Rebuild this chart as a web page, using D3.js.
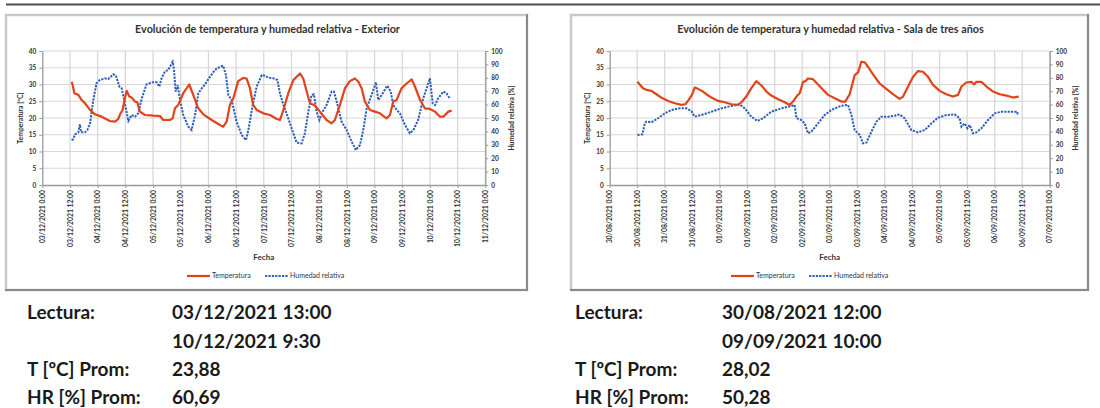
<!DOCTYPE html>
<html>
<head>
<meta charset="utf-8">
<script src="https://cdn.jsdelivr.net/npm/d3@7"></script>
<style>
  body { margin: 0; background: #fff; }
  svg { display: block; }
</style>
</head>
<body>
<svg id="chart" width="1100" height="408"></svg>
<script>
// ---------- Exterior: hours since 03/12/2021 0:00 ----------
const extTempHours = [12.7,13.1,13.9,15.6,17.0,18.5,20.7,22.8,25.7,29.3,31.5,32.9,33.7,34.8,35.8,36.6,37.7,38.7,40.2,41.2,42.3,44.5,48.1,51.0,52.4,55.3,56.5,57.5,58.9,61.1,63.7,65.4,67.6,69.8,73.4,77.0,78.4,79.9,81.3,82.8,84.9,87.1,88.5,90.0,91.4,92.9,95.8,98.7,101.6,103.0,104.5,106.6,108.8,111.7,113.1,114.6,116.0,118.2,120.3,123.2,125.4,126.8,129.0,131.2,133.3,135.5,137.0,138.4,139.8,142.0,144.2,146.3,149.2,150.7,152.1,153.6,155.7,157.9,160.1,161.5,163.7,165.8,168.0,170.2,172.4,173.8,176.0,177.4];
const extTemp      = [30.8,30.0,27.4,26.9,25.4,24.4,22.4,21.1,20.4,19.1,18.9,19.7,21.1,22.4,25.9,28.1,26.4,26.1,24.9,24.7,21.9,20.9,20.7,20.6,19.4,19.4,19.9,22.9,23.9,27.4,30.0,26.9,22.9,21.1,19.4,17.9,17.4,18.9,23.9,25.9,31.0,32.0,31.8,28.9,23.9,22.4,21.4,20.9,19.7,19.4,22.4,27.4,31.3,33.3,31.8,27.9,24.4,23.7,21.9,19.4,18.4,19.4,23.9,28.9,31.0,31.8,30.8,28.9,24.9,22.4,21.9,21.4,19.9,20.9,24.9,25.4,28.9,30.3,31.5,29.4,25.4,22.9,22.7,21.9,20.4,20.4,21.9,22.2];
const extHumHours  = [12.7,13.4,14.2,15.6,16.3,16.8,18.5,19.5,20.7,22.1,23.5,25.0,27.2,28.6,30.8,31.9,33.4,34.4,35.8,37.3,38.7,40.2,41.6,43.1,45.2,47.4,49.6,50.7,51.7,53.2,54.6,55.3,56.5,57.1,57.8,58.7,59.7,61.1,63.3,64.7,66.2,67.6,69.1,70.5,72.7,74.8,77.0,78.4,79.6,80.6,82.1,84.2,86.4,88.3,89.3,91.2,92.9,95.1,96.5,98.0,100.1,101.9,103.0,104.5,106.6,108.8,110.2,112.4,113.8,115.3,116.7,117.7,118.9,120.1,121.5,123.2,125.4,126.4,127.6,129.7,131.9,134.1,135.9,137.7,139.1,140.6,142.7,144.6,145.6,147.1,149.5,151.0,152.1,153.6,155.0,157.2,159.3,160.8,162.9,165.1,167.3,168.0,169.2,170.2,171.6,173.8,175.2,176.7];
const extHum       = [33.6,34.1,37.8,39.3,45.3,39.3,39.3,41.0,46.0,63.4,75.9,78.4,79.6,79.1,82.6,81.6,73.4,72.1,60.9,47.8,52.2,51.0,53.5,64.7,75.1,76.6,76.6,73.4,79.6,85.0,85.8,88.3,92.0,85.8,69.7,74.6,63.4,52.2,43.5,41.0,52.2,68.4,72.1,75.1,80.8,85.8,88.3,89.0,82.0,67.2,63.4,47.3,37.3,33.6,41.0,59.7,73.4,82.0,81.6,80.0,79.6,78.4,68.4,59.7,49.8,38.6,31.6,31.1,38.6,54.7,67.2,67.7,54.7,48.5,54.7,59.7,69.7,69.7,62.2,47.3,41.0,32.3,26.1,29.9,41.0,57.2,67.2,76.6,63.4,67.2,74.1,69.7,59.7,56.0,53.5,44.8,38.6,41.0,48.5,64.7,75.9,79.6,60.9,59.7,64.7,69.7,68.4,64.2];

// ---------- Sala de tres años: hours since 30/08/2021 0:00 ----------
const salaTempHours = [12.1,13.1,14.5,16.0,18.2,20.4,22.5,25.5,28.4,31.3,33.0,34.5,35.9,37.1,38.5,40.7,42.2,44.4,47.3,50.2,53.1,56.0,57.5,59.6,61.8,64.0,66.2,68.4,70.5,73.5,76.4,78.5,80.0,81.5,82.9,84.4,85.4,86.5,88.7,90.9,93.1,95.3,98.2,101.1,102.8,104.7,106.9,108.4,109.8,111.3,112.7,114.9,117.8,120.7,123.6,126.5,128.0,130.2,132.4,134.5,136.7,138.9,141.1,144.0,146.9,149.8,152.0,153.5,155.6,157.8,159.0,160.0,162.2,164.4,167.3,170.2,173.1,176.0,178.5];
const salaTemp      = [30.8,30.0,28.9,28.4,28.1,27.1,26.1,25.1,24.4,23.9,24.1,25.4,26.9,29.1,28.7,27.9,27.1,26.1,25.1,24.7,24.1,23.9,24.7,26.4,28.9,31.0,29.7,27.9,26.7,25.6,24.7,23.9,24.9,26.4,27.4,30.8,31.0,31.8,31.6,30.0,28.4,26.9,25.9,24.9,24.9,27.1,32.8,33.6,36.8,36.6,35.3,33.0,30.3,28.7,27.1,25.7,26.4,29.4,32.3,34.0,33.8,32.3,29.9,28.1,27.1,26.4,26.9,29.4,30.6,30.8,30.0,30.8,30.8,29.4,27.9,27.1,26.7,26.1,26.4];
const salaHumHours  = [12.1,14.3,15.3,16.0,18.2,21.1,24.0,26.9,30.5,33.5,35.6,37.1,40.0,44.4,48.7,53.1,56.7,58.9,61.8,64.4,66.9,70.5,74.9,79.3,80.7,81.5,83.6,85.1,86.5,88.0,90.9,93.8,96.7,101.1,104.0,105.5,106.9,109.1,110.5,112.0,114.2,116.4,118.5,121.5,124.4,126.5,128.7,131.6,134.5,137.5,140.4,143.3,146.9,150.5,152.7,153.5,154.9,156.1,157.1,158.5,160.0,162.2,165.1,168.0,170.9,175.3,177.9,178.0];
const salaHum       = [37.3,37.8,46.0,47.3,46.8,49.8,53.5,56.0,57.2,57.2,55.2,51.0,52.2,54.7,57.2,59.0,60.2,57.2,51.0,47.8,49.8,54.7,57.2,59.0,59.7,49.8,48.5,46.0,38.6,39.8,46.0,52.2,56.0,59.2,59.7,52.2,41.0,37.3,31.1,31.6,39.8,47.3,51.0,51.0,51.7,52.7,49.8,41.0,39.3,41.0,46.0,50.2,52.2,52.7,49.8,43.5,46.0,42.3,44.8,38.6,39.3,42.3,48.5,53.5,54.7,54.7,54.7,51.7];

// ---------- Axis tick values ----------
const tempTicks = d3.range(0, 41, 5);
const humTicks  = d3.range(0, 101, 10);

// ---------- Summary figures ----------
const extReading  = ["03/12/2021 13:00", "10/12/2021 9:30"];
const extAvg      = ["23,88", "60,69"];
const salaReading = ["30/08/2021 12:00", "09/09/2021 10:00"];
const salaAvg     = ["28,02", "50,28"];
const summaryLabels = ["Lectura:", "T [ºC] Prom:", "HR [%] Prom:"];

const RED  = "#e2431b";
const BLUE = "#2d5db8";
const FONT = "Lato, 'Liberation Sans', sans-serif";

const panels = [
  {
    title: "Evolución de temperatura y humedad relativa - Exterior",
    start: new Date(2021, 11, 3, 0, 0),
    tempH: extTempHours, temp: extTemp, humH: extHumHours, hum: extHum,
    frame: { x0: 6, y0: 15, x1: 527, y1: 290 },
    plot: { x0: 42.3, x1: 485.3, y0: 51, y1: 185 },
    legendX: 187,
    reading: extReading, avg: extAvg, textX: 27, valueX: 172
  },
  {
    title: "Evolución de temperatura y humedad relativa - Sala de tres años",
    start: new Date(2021, 7, 30, 0, 0),
    tempH: salaTempHours, temp: salaTemp, humH: salaHumHours, hum: salaHum,
    frame: { x0: 571, y0: 15, x1: 1088, y1: 290 },
    plot: { x0: 609.7, x1: 1049.7, y0: 51, y1: 185 },
    legendX: 731,
    reading: salaReading, avg: salaAvg, textX: 575, valueX: 722
  }
];

const svg = d3.select("#chart");
const fmt = d3.timeFormat("%d/%m/%Y %-H:%M");

// rule across the top of the page
svg.append("line")
  .attr("x1", 6).attr("x2", 1100).attr("y1", 4.5).attr("y2", 4.5)
  .attr("stroke", "#4d4d4d").attr("stroke-width", 2);

panels.forEach(p => {
  const g = svg.append("g");
  const f = p.frame, pl = p.plot;

  // chart frame with a darker right/bottom edge
  g.append("rect")
    .attr("x", f.x0).attr("y", f.y0)
    .attr("width", f.x1 - f.x0).attr("height", f.y1 - f.y0)
    .attr("fill", "#fff").attr("stroke", "#c9c9c9").attr("stroke-width", 2.5);
  g.append("path")
    .attr("d", `M${f.x1},${f.y0 - 1}V${f.y1}H${f.x0 - 1}`)
    .attr("fill", "none").attr("stroke", "#8a8a8a").attr("stroke-width", 2);

  const x = d3.scaleTime()
    .domain([p.start, d3.timeDay.offset(p.start, 8)])
    .range([pl.x0, pl.x1]);
  const yT = d3.scaleLinear().domain([0, 40]).range([pl.y1, pl.y0]);
  const yH = d3.scaleLinear().domain([0, 100]).range([pl.y1, pl.y0]);
  const toDate = h => new Date(p.start.getTime() + h * 3600e3);
  const xTicks = x.ticks(d3.timeHour.every(12));

  // gridlines
  g.append("g").selectAll("line").data(tempTicks.slice(1)).join("line")
    .attr("x1", pl.x0).attr("x2", pl.x1)
    .attr("y1", d => yT(d)).attr("y2", d => yT(d))
    .attr("stroke", "#d6d6d6").attr("stroke-width", 1.2);
  g.append("g").selectAll("line").data(xTicks.slice(1)).join("line")
    .attr("x1", d => x(d)).attr("x2", d => x(d))
    .attr("y1", pl.y0).attr("y2", pl.y1)
    .attr("stroke", "#d6d6d6").attr("stroke-width", 1.2);

  // axes
  const styleAxis = sel => {
    sel.selectAll("path").attr("stroke", "#9a9a9a").attr("stroke-width", 1.3);
    sel.selectAll("line").attr("stroke", "#9a9a9a");
    sel.selectAll("text").attr("fill", "#333")
      .style("font-family", FONT).style("font-weight", "bold");
  };

  g.append("g").attr("transform", `translate(${pl.x0},0)`)
    .call(d3.axisLeft(yT).tickValues(tempTicks).tickSize(3).tickSizeOuter(0).tickPadding(3))
    .call(styleAxis)
    .selectAll("text").style("font-size", "6.5px");

  g.append("g").attr("transform", `translate(${pl.x1},0)`)
    .call(d3.axisRight(yH).tickValues(humTicks).tickSize(3).tickSizeOuter(0).tickPadding(3))
    .call(styleAxis)
    .selectAll("text").style("font-size", "6.5px");

  const xAxis = g.append("g").attr("transform", `translate(0,${pl.y1})`)
    .call(d3.axisBottom(x).tickValues(xTicks).tickFormat(fmt).tickSize(3).tickSizeOuter(0))
    .call(styleAxis);
  xAxis.selectAll("text")
    .style("font-size", "6.8px")
    .style("text-anchor", "end")
    .attr("transform", "rotate(-90)")
    .attr("x", -5).attr("y", 0).attr("dy", "0.33em");

  // series
  const tempLine = d3.line()
    .x((d, i) => x(toDate(p.tempH[i])))
    .y(d => yT(d));
  const humLine = d3.line()
    .x((d, i) => x(toDate(p.humH[i])))
    .y(d => yH(d));

  g.append("path").datum(p.hum).attr("d", humLine)
    .attr("fill", "none").attr("stroke", BLUE).attr("stroke-width", 2)
    .attr("stroke-dasharray", "2.2,1.2");
  g.append("path").datum(p.temp).attr("d", tempLine)
    .attr("fill", "none").attr("stroke", RED).attr("stroke-width", 2.2)
    .attr("stroke-linejoin", "round");

  // titles
  const cx = (f.x0 + f.x1) / 2;
  g.append("text").attr("x", cx + 1).attr("y", 33)
    .attr("text-anchor", "middle")
    .style("font-family", FONT).style("font-weight", "bold")
    .style("font-size", "10.8px").attr("fill", "#333")
    .text(p.title);

  g.append("text")
    .attr("transform", `translate(${pl.x0 - 22},${(pl.y0 + pl.y1) / 2}) rotate(-90)`)
    .attr("text-anchor", "middle").attr("dy", "0.35em")
    .style("font-family", FONT).style("font-weight", "bold")
    .style("font-size", "6.8px").attr("fill", "#333")
    .text("Temperatura [ºC]");
  g.append("text")
    .attr("transform", `translate(${pl.x1 + 26},${(pl.y0 + pl.y1) / 2}) rotate(-90)`)
    .attr("text-anchor", "middle").attr("dy", "0.35em")
    .style("font-family", FONT).style("font-weight", "bold")
    .style("font-size", "6.8px").attr("fill", "#333")
    .text("Humedad relativa [%]");

  g.append("text").attr("x", (pl.x0 + pl.x1) / 2).attr("y", 260)
    .attr("text-anchor", "middle")
    .style("font-family", FONT).style("font-weight", "bold")
    .style("font-size", "8px").attr("fill", "#333")
    .text("Fecha");

  // legend
  const lg = g.append("g").attr("transform", `translate(${p.legendX},276)`);
  lg.append("line").attr("x1", 0).attr("x2", 23).attr("y1", 0).attr("y2", 0)
    .attr("stroke", RED).attr("stroke-width", 2.2);
  lg.append("text").attr("x", 25).attr("dy", "0.33em")
    .style("font-family", FONT).style("font-size", "7px").attr("fill", "#333")
    .text("Temperatura");
  lg.append("line").attr("x1", 78).attr("x2", 101).attr("y1", 0).attr("y2", 0)
    .attr("stroke", BLUE).attr("stroke-width", 2).attr("stroke-dasharray", "2.2,1.2");
  lg.append("text").attr("x", 103).attr("dy", "0.33em")
    .style("font-family", FONT).style("font-size", "7px").attr("fill", "#333")
    .text("Humedad relativa");

  // summary block under the chart
  const rows = [
    [summaryLabels[0], p.reading[0], 312],
    ["",               p.reading[1], 341],
    [summaryLabels[1], p.avg[0],     369],
    [summaryLabels[2], p.avg[1],     397]
  ];
  const sg = svg.append("g")
    .style("font-family", FONT).style("font-weight", "bold")
    .style("font-size", "19px").attr("fill", "#1a1a1a");
  rows.forEach(r => {
    if (r[0]) sg.append("text").attr("x", p.textX).attr("y", r[2]).attr("dy", "0.35em").text(r[0]);
    sg.append("text").attr("x", p.valueX).attr("y", r[2]).attr("dy", "0.35em").text(r[1]);
  });
});
</script>
</body>
</html>
